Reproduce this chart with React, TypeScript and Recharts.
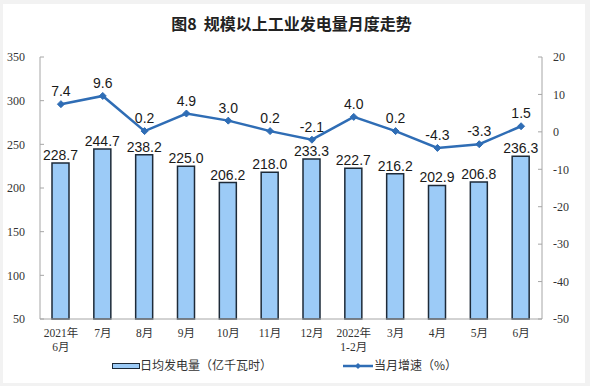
import React from "react";
import { ComposedChart, Bar, Line, XAxis, YAxis, LabelList, Legend } from "recharts";

const categories = ["2021年|6月", "7月", "8月", "9月", "10月", "11月", "12月", "2022年|1-2月", "3月", "4月", "5月", "6月"];
const dailyOutput = [228.7, 244.7, 238.2, 225.0, 206.2, 218.0, 233.3, 222.7, 216.2, 202.9, 206.8, 236.3];
const growth = [7.4, 9.6, 0.2, 4.9, 3.0, 0.2, -2.1, 4.0, 0.2, -4.3, -3.3, 1.5];
const leftTicks = [50, 100, 150, 200, 250, 300, 350];
const rightTicks = [-50, -40, -30, -20, -10, 0, 10, 20];

const data = categories.map((c, i) => ({ cat: c, output: dailyOutput[i], growth: growth[i] }));

const BAR_FILL = "#9ccbf7";
const BAR_STROKE = "#1d2a38";
const LINE_COLOR = "#2f6db5";
const SERIF = "'Liberation Serif', 'Times New Roman', 'Noto Sans CJK SC', serif";
const SANS = "'Liberation Sans', Arial, 'Noto Sans CJK SC', sans-serif";

const XTick = (props: any) => {
  const { x, y, payload } = props;
  const parts = String(payload.value).split("|");
  return (
    <text x={x} y={y} textAnchor="middle" fill="#333" fontSize={11.5} fontFamily={SERIF}>
      {parts.map((p: string, i: number) => (
        <tspan key={i} x={x} dy={i === 0 ? 18 : 14}>{p}</tspan>
      ))}
    </text>
  );
};

const Diamond = (props: any) => {
  const { cx, cy } = props;
  if (cx == null || cy == null) return null;
  const s = 3.5;
  return (
    <polygon
      points={`${cx},${cy - s} ${cx + s},${cy} ${cx},${cy + s} ${cx - s},${cy}`}
      fill={LINE_COLOR}
      stroke={LINE_COLOR}
    />
  );
};

const LegendContent = () => (
  <div style={{ position: "relative", width: 590, height: 20, fontFamily: "'Noto Sans CJK SC', sans-serif", fontSize: 12, color: "#333" }}>
    <div style={{ position: "absolute", left: 112, top: 7, width: 26, height: 4, background: BAR_FILL, border: `1px solid ${BAR_STROKE}` }} />
    <div style={{ position: "absolute", left: 140, top: 0, lineHeight: "18px", whiteSpace: "nowrap" }}>日均发电量（亿千瓦时）</div>
    <svg style={{ position: "absolute", left: 343, top: 4 }} width={30} height={12}>
      <line x1={0} y1={6} x2={30} y2={6} stroke={LINE_COLOR} strokeWidth={2.5} />
      <polygon points="15,3 18,6 15,9 12,6" fill={LINE_COLOR} />
    </svg>
    <div style={{ position: "absolute", left: 374, top: 0, lineHeight: "18px", whiteSpace: "nowrap" }}>当月增速（%）</div>
  </div>
);

export default function App() {
  return (
    <div style={{ position: "absolute", left: 0, top: 0, width: 590, height: 386, background: "#f2f2f2" }}>
      <div style={{ position: "absolute", left: 3, top: 4, width: 582, height: 379, background: "#ffffff" }} />
      <div
        style={{
          position: "absolute",
          left: 0,
          top: 13,
          width: 583,
          textAlign: "center",
          fontFamily: "'Noto Sans CJK SC', sans-serif",
          fontWeight: 700,
          fontSize: 16,
          lineHeight: "20px",
          color: "#222",
          whiteSpace: "pre",
        }}
      >
        {"图8  规模以上工业发电量月度走势"}
      </div>
      <div style={{ position: "absolute", left: 0, top: 0 }}>
        <ComposedChart
          width={590}
          height={386}
          data={data}
          margin={{ top: 57, right: 0, bottom: 27, left: 0 }}
          barCategoryGap={0}
        >
          <XAxis
            dataKey="cat"
            tick={<XTick />}
            tickLine={false}
            tickSize={0}
            tickMargin={0}
            axisLine={{ stroke: "#a6a6a6" }}
            interval={0}
            height={40}
          />
          <YAxis
            yAxisId="left"
            orientation="left"
            domain={[50, 350]}
            ticks={leftTicks}
            width={40}
            tickSize={-4}
            tickMargin={19}
            axisLine={{ stroke: "#a6a6a6" }}
            tickLine={{ stroke: "#a6a6a6" }}
            tick={{ fill: "#333", fontSize: 12, fontFamily: SERIF }}
            interval={0}
          />
          <YAxis
            yAxisId="right"
            orientation="right"
            domain={[-50, 20]}
            ticks={rightTicks}
            width={48}
            tickSize={-4}
            tickMargin={15}
            axisLine={{ stroke: "#a6a6a6" }}
            tickLine={{ stroke: "#a6a6a6" }}
            tick={{ fill: "#333", fontSize: 12, fontFamily: SERIF, textAnchor: "start" }}
            interval={0}
          />
          <Legend
            layout="horizontal"
            verticalAlign="middle"
            align="center"
            wrapperStyle={{ position: "absolute", top: 356, left: 0, width: 590 }}
            content={<LegendContent />}
          />
          <Bar
            yAxisId="left"
            dataKey="output"
            barSize={17}
            fill={BAR_FILL}
            stroke={BAR_STROKE}
            strokeWidth={1.5}
            isAnimationActive={false}
          >
            <LabelList
              dataKey="output"
              position="top"
              offset={3}
              formatter={(v: any) => Number(v).toFixed(1)}
              style={{ fill: "#1a1a1a", fontSize: 14, fontFamily: SANS }}
            />
          </Bar>
          <Line
            yAxisId="right"
            dataKey="growth"
            stroke={LINE_COLOR}
            strokeWidth={2.5}
            dot={<Diamond />}
            activeDot={false}
            isAnimationActive={false}
          >
            <LabelList
              dataKey="growth"
              position="top"
              offset={8}
              formatter={(v: any) => Number(v).toFixed(1)}
              style={{ fill: "#1a1a1a", fontSize: 14, fontFamily: SANS }}
            />
          </Line>
        </ComposedChart>
      </div>
    </div>
  );
}
